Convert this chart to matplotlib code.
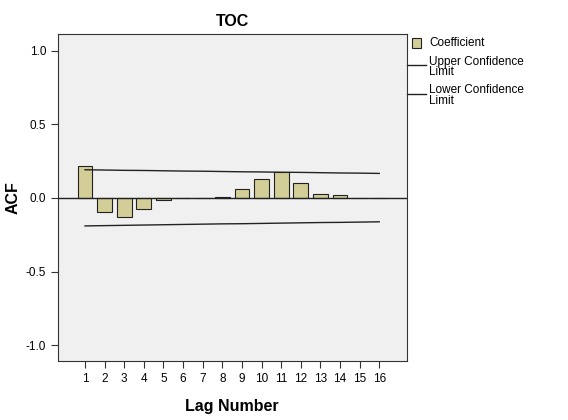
import numpy as np
import matplotlib.pyplot as plt
from matplotlib.patches import Rectangle

plt.rcParams['font.family'] = ['Liberation Sans', 'DejaVu Sans']

lags = np.arange(1, 17)
acf = [0.215, -0.095, -0.13, -0.073, -0.015, -0.003, -0.003, 0.007,
       0.06, 0.13, 0.18, 0.105, 0.03, 0.02, -0.003, -0.003]
upper = [0.192, 0.190, 0.188, 0.187, 0.185, 0.183, 0.182, 0.180,
         0.178, 0.177, 0.175, 0.174, 0.172, 0.170, 0.169, 0.167]
lower = [-0.190, -0.188, -0.186, -0.184, -0.182, -0.180, -0.178, -0.176,
         -0.175, -0.173, -0.171, -0.169, -0.167, -0.166, -0.164, -0.162]
legend_labels = ['Coefficient', 'Upper Confidence\nLimit', 'Lower Confidence\nLimit']

bar_color = '#d3ce97'
line_color = '#222222'

fig = plt.figure(figsize=(5.68, 4.2), dpi=100)
ax = fig.add_axes([0.102, 0.140, 0.614, 0.779])
ax.set_facecolor('#f0f0f0')

ax.bar(lags, acf, width=0.75, color=bar_color, edgecolor=line_color, linewidth=0.8, zorder=2)
ax.plot(lags, upper, color=line_color, linewidth=1.0, zorder=3)
ax.plot(lags, lower, color=line_color, linewidth=1.0, zorder=3)
ax.axhline(0, color=line_color, linewidth=1.0, zorder=3)

ax.set_xlim(-0.38, 17.4)
ax.set_ylim(-1.11, 1.115)
ax.set_xticks(lags)
ax.set_yticks([-1.0, -0.5, 0.0, 0.5, 1.0])
ax.set_yticklabels(['-1.0', '-0.5', '0.0', '0.5', '1.0'])
ax.tick_params(labelsize=8.5, length=5, width=0.8, color='#333333')
for s in ax.spines.values():
    s.set_color('#333333')
    s.set_linewidth(0.8)

ax.set_title('TOC', fontsize=11.5, fontweight='bold', pad=6)
ax.set_xlabel('Lag Number', fontsize=11.5, fontweight='bold', labelpad=10)
ax.set_ylabel('ACF', fontsize=11.5, fontweight='bold', labelpad=4)

# legend drawn by hand, outside the axes on the right
tr = ax.transAxes
ax.add_patch(Rectangle((1.015, 0.957), 0.026, 0.031, transform=tr, clip_on=False,
                       facecolor=bar_color, edgecolor=line_color, linewidth=0.8))
ax.text(1.064, 0.972, legend_labels[0], transform=tr, fontsize=8.5, va='center')
for ly, ty, lab in [(0.905, 0.899, legend_labels[1]), (0.817, 0.812, legend_labels[2])]:
    ax.plot([1.0, 1.055], [ly, ly], transform=tr, clip_on=False, color=line_color, linewidth=1.0)
    ax.text(1.064, ty, lab, transform=tr, fontsize=8.5, va='center', linespacing=0.8)

fig.savefig('out.png', dpi=100)
